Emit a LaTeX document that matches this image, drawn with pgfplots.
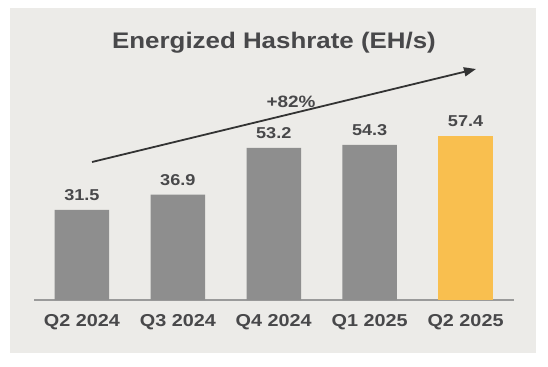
\documentclass[border=0pt]{standalone}
\usepackage{pgfplots}
\pgfplotsset{compat=1.18}
\usepackage{fontspec}
\setmainfont{Liberation Sans}[FakeStretch=1.15]
\usetikzlibrary{arrows.meta}
\definecolor{panel}{HTML}{ECEBE8}
\definecolor{bargray}{HTML}{8E8E8E}
\definecolor{baryellow}{HTML}{F9BF4F}
\definecolor{txt}{HTML}{48484A}
\definecolor{arrowc}{HTML}{333333}
\definecolor{axisc}{HTML}{9A9A9A}
\begin{document}
\begin{tikzpicture}[x=1bp,y=1bp]
\fill[white] (0,0) rectangle (548,366);
\fill[panel] (10,13) rectangle (536,358);
\node[anchor=base, font=\fontsize{22.6}{26}\selectfont\bfseries, text=txt, inner sep=0] at (274,317.7) {Energized Hashrate (EH/s)};
\begin{axis}[
  at={(34bp,66bp)}, anchor=south west,
  scale only axis, width=479.5bp, height=228.6bp,
  xmin=-0.5, xmax=4.5, ymin=0, ymax=80,
  hide y axis, axis x line*=bottom,
  x axis line style={-, draw=axisc, line width=1.3bp},
  xtick={0,1,2,3,4},
  xticklabels={Q2 2024,Q3 2024,Q4 2024,Q1 2025,Q2 2025},
  xtick style={draw=none}, major tick length=0pt,
  xticklabel style={font=\fontsize{17.3}{20}\selectfont\bfseries, text=txt, anchor=base, yshift=-26.7bp, inner sep=0pt},
  ybar, bar width=54.5bp, bar shift=0bp,
  nodes near coords,
  nodes near coords style={font=\fontsize{15.8}{18}\selectfont\bfseries, text=txt, anchor=base, yshift=9bp, inner sep=0pt},
  point meta=y,
  /pgf/number format/.cd, fixed, fixed zerofill, precision=1, assume math mode=true,
  /pgfplots/.cd,
  clip=false,
]
\addplot[fill=bargray, draw=none] coordinates {(0,31.5) (1,36.9) (2,53.2) (3,54.3)};
\addplot[fill=baryellow, draw=none] coordinates {(4,57.4)};
\end{axis}
\draw[arrowc, line width=1.8bp, -{Triangle[length=12bp,width=9bp]}] (92,204) -- (476,297);
\node[anchor=base, font=\fontsize{16.5}{19}\selectfont\bfseries, text=txt, inner sep=0] at (291,259) {+82\%};
\end{tikzpicture}
\end{document}
